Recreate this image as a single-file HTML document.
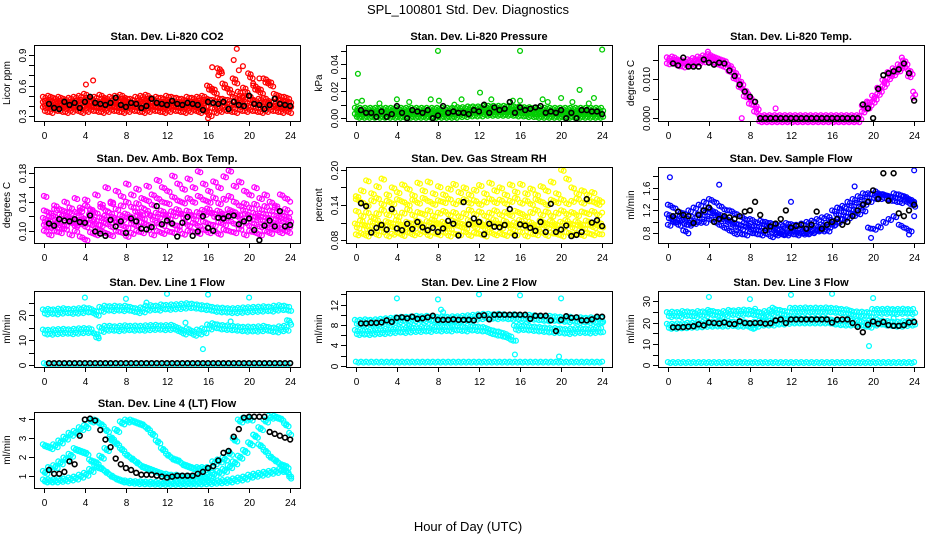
<!DOCTYPE html>
<html><head><meta charset="utf-8"><title>SPL_100801 Std. Dev. Diagnostics</title>
<style>
html,body{margin:0;padding:0;background:#fff;}
svg{display:block;font-family:"Liberation Sans",Arial,sans-serif;}
</style></head>
<body>
<svg id="chart" width="936" height="540" viewBox="0 0 936 540" xmlns="http://www.w3.org/2000/svg">
<rect x="0" y="0" width="936" height="540" fill="#fff"/>
<text x="468" y="14" text-anchor="middle" font-size="13">SPL_100801  Std. Dev. Diagnostics</text>
<text x="468" y="531" text-anchor="middle" font-size="13">Hour of Day (UTC)</text>
</svg>
<script>
// ---------- data ----------
const hourTicks = [0,4,8,12,16,20,24];

const co2Hi = [0.47,0.48,0.46,0.47,0.45,0.46,0.47,0.48,0.50,0.46,0.47,0.49,0.46,0.47,0.48,0.49,0.46,0.45,0.47,0.48,0.49,0.46,0.47,0.46,0.48,0.47,0.46,0.45,0.47,0.46,0.47,0.48,0.58,0.55,0.75,0.60,0.55,0.65,0.52,0.56,0.70,0.58,0.55,0.65,0.62,0.50,0.48,0.47,0.45];
const co2Mid = [0.42,0.43,0.41,0.42,0.43,0.42,0.41,0.43,0.44,0.42,0.41,0.42,0.43,0.42,0.41,0.42,0.43,0.42,0.41,0.42,0.43,0.42,0.41,0.42,0.43,0.42,0.41,0.42,0.43,0.42,0.41,0.42,0.45,0.44,0.46,0.45,0.44,0.47,0.45,0.46,0.48,0.44,0.45,0.46,0.43,0.42,0.41,0.42,0.41];
const co2Lo = [0.37,0.36,0.38,0.37,0.36,0.37,0.38,0.36,0.37,0.38,0.37,0.36,0.37,0.38,0.37,0.36,0.37,0.38,0.37,0.36,0.37,0.38,0.37,0.36,0.37,0.38,0.37,0.36,0.37,0.38,0.36,0.37,0.33,0.36,0.37,0.38,0.37,0.36,0.38,0.37,0.38,0.37,0.36,0.37,0.38,0.37,0.36,0.37,0.35];
const co2OutX = [4.1,4.8,16.4,17.0,18.8,18.5,19.0,16.0,21.0,17.3,19.4,20.4];
const co2OutY = [0.61,0.65,0.78,0.70,0.96,0.85,0.75,0.28,0.67,0.74,0.79,0.62];
const co2Black = [0.42,0.38,0.37,0.44,0.41,0.43,0.38,0.44,0.49,0.43,0.42,0.41,0.43,0.48,0.41,0.39,0.43,0.42,0.38,0.40,0.47,0.43,0.42,0.41,0.45,0.42,0.41,0.43,0.42,0.41,0.36,0.44,0.43,0.42,0.44,0.37,0.44,0.41,0.40,0.50,0.42,0.41,0.37,0.41,0.47,0.42,0.41,0.40];

const presBand = [0.004,0.004,0.004,0.004,0.004,0.004,0.004,0.004,0.004,0.004,0.004,0.004,0.004,0.004,0.004,0.004,0.004,0.004,0.004,0.004,0.0045,0.0045,0.005,0.005,0.005,0.0055,0.0055,0.0055,0.0055,0.0055,0.0055,0.005,0.005,0.0045,0.0045,0.004,0.004,0.004,0.004,0.004,0.004,0.004,0.004,0.004,0.004,0.004,0.004,0.004,0.004];
const presOutX = [0.2,8.0,16.0,24.0,0.1,0.6,2.3,4.0,5.2,7.3,8.1,10.3,12.1,13.2,15.3,18.2,20.0,21.8,23.2,9.6,21.1,22.7,16.0,18.7];
const presOutY = [0.033,0.050,0.050,0.051,0.012,0.013,0.011,0.014,0.012,0.014,0.013,0.014,0.019,0.014,0.013,0.014,0.015,0.021,0.015,0.010,0.012,0.011,0.013,0.012];
const presBlack = [0.006,0.004,0.004,0.001,0.005,0.001,0.003,0.009,0.004,0.000,0.006,0.005,0.004,0.006,0.000,0.002,0.009,0.004,0.005,0.004,0.004,0.003,0.006,0.005,0.010,0.004,0.008,0.006,0.007,0.012,0.004,0.008,0.006,0.007,0.008,0.009,0.004,0.005,0.004,0.006,0.000,0.004,0.000,0.006,0.006,0.005,0.005,0.003];

const tempBand = [0.0148,0.0150,0.0143,0.0140,0.0143,0.0146,0.0150,0.0153,0.0156,0.0150,0.0145,0.0140,0.0128,0.0110,0.0088,0.0064,0.0045,0.0025,0,0,0,0,0,0,0,0,0,0,0,0,0,0,0,0,0,0,0,0,0.0025,0.0035,0.0050,0.0070,0.0090,0.0110,0.0120,0.0130,0.0140,0.0115,0.0060];
const tempOutX = [3.9,10.5,7.2,19.5,22.8];
const tempOutY = [0.0170,0.0025,0.0000,0.0040,0.0155];
const tempBlack = [0.0140,0.0135,0.0155,0.0132,0.0132,0.0132,0.0150,0.0142,0.0137,0.0142,0.0140,0.0122,0.0108,0.0086,0.0068,0.0055,0.0042,0,0,0,0,0,0,0,0,0,0,0,0,0,0,0,0,0,0,0,0,0.0035,0.0025,0,0.0075,0.0110,0.0115,0.0120,0.0125,0.0140,0.0115,0.0045];

const ambA = [0.100,0.095,0.100,0.098,0.103,0.095,0.100,0.092,0.088,0.098,0.095,0.100,0.097,0.094,0.100,0.098,0.093,0.097,0.100,0.098,0.102,0.095,0.100,0.097,0.100,0.098,0.102,0.096,0.100,0.099,0.097,0.102,0.098,0.100,0.096,0.102,0.100,0.098,0.103,0.095,0.100,0.098,0.095,0.100,0.097,0.102,0.098,0.100,0.097];
const ambB = [0.115,0.112,0.118,0.110,0.120,0.115,0.112,0.118,0.114,0.120,0.112,0.116,0.118,0.122,0.115,0.119,0.121,0.117,0.124,0.120,0.126,0.118,0.122,0.125,0.120,0.124,0.127,0.121,0.125,0.119,0.123,0.126,0.128,0.122,0.125,0.121,0.127,0.124,0.120,0.126,0.119,0.122,0.118,0.121,0.115,0.119,0.116,0.118,0.115];
const ambC = [0.128,0.125,0.130,0.122,0.127,0.132,0.126,0.128,0.135,0.130,0.125,0.133,0.128,0.138,0.130,0.135,0.140,0.133,0.138,0.132,0.142,0.136,0.145,0.140,0.138,0.147,0.142,0.139,0.145,0.140,0.148,0.143,0.140,0.146,0.138,0.144,0.148,0.140,0.135,0.138,0.132,0.137,0.130,0.134,0.128,0.132,0.127,0.130,0.125];
const ambD = [0.148,0.120,0.135,0.130,0.140,0.125,0.145,0.132,0.143,0.128,0.150,0.137,0.160,0.140,0.155,0.148,0.165,0.150,0.158,0.145,0.162,0.150,0.170,0.160,0.155,0.176,0.165,0.158,0.172,0.160,0.182,0.165,0.155,0.168,0.160,0.175,0.183,0.162,0.168,0.155,0.150,0.160,0.145,0.150,0.140,0.135,0.150,0.145,0.140];
const ambE = [0.108,0.105,0.110,0.104,0.108,0.112,0.107,0.110,0.106,0.109,0.104,0.108,0.110,0.106,0.112,0.108,0.105,0.110,0.107,0.112,0.109,0.106,0.111,0.108,0.113,0.109,0.107,0.112,0.108,0.111,0.107,0.113,0.110,0.108,0.112,0.109,0.114,0.110,0.108,0.112,0.107,0.110,0.106,0.109,0.105,0.108,0.104,0.107,0.105];
const ambBlack = [0.110,0.107,0.116,0.114,0.113,0.116,0.112,0.111,0.121,0.099,0.096,0.093,0.115,0.106,0.113,0.097,0.117,0.113,0.103,0.102,0.105,0.134,0.109,0.114,0.110,0.092,0.111,0.119,0.093,0.099,0.120,0.104,0.100,0.118,0.117,0.120,0.121,0.109,0.113,0.117,0.101,0.087,0.107,0.114,0.106,0.127,0.106,0.108];

const rhA = [0.090,0.092,0.088,0.094,0.090,0.095,0.088,0.091,0.093,0.089,0.094,0.090,0.092,0.095,0.089,0.093,0.090,0.094,0.088,0.092,0.090,0.095,0.089,0.093,0.091,0.088,0.094,0.090,0.092,0.089,0.093,0.090,0.095,0.088,0.092,0.090,0.094,0.089,0.093,0.091,0.088,0.094,0.090,0.092,0.089,0.093,0.090,0.092,0.090];
const rhB = [0.105,0.110,0.102,0.108,0.112,0.104,0.109,0.106,0.111,0.103,0.108,0.105,0.110,0.104,0.109,0.112,0.106,0.108,0.103,0.110,0.107,0.104,0.111,0.106,0.109,0.103,0.108,0.112,0.105,0.110,0.104,0.107,0.111,0.105,0.108,0.103,0.110,0.106,0.109,0.104,0.108,0.111,0.105,0.109,0.104,0.110,0.106,0.108,0.105];
const rhC = [0.130,0.122,0.128,0.120,0.126,0.132,0.124,0.129,0.121,0.127,0.133,0.123,0.128,0.125,0.131,0.122,0.127,0.130,0.124,0.128,0.121,0.126,0.132,0.125,0.129,0.122,0.127,0.131,0.124,0.128,0.123,0.130,0.126,0.121,0.128,0.132,0.124,0.129,0.122,0.127,0.131,0.125,0.128,0.123,0.129,0.126,0.130,0.124,0.127];
const rhD = [0.150,0.145,0.140,0.148,0.152,0.142,0.147,0.143,0.150,0.146,0.141,0.149,0.144,0.152,0.147,0.142,0.148,0.145,0.151,0.143,0.147,0.150,0.144,0.148,0.142,0.146,0.151,0.145,0.149,0.143,0.147,0.152,0.144,0.148,0.142,0.150,0.146,0.141,0.149,0.145,0.150,0.143,0.147,0.151,0.144,0.148,0.146,0.142,0.145];
const rhE = [0.155,0.165,0.182,0.160,0.172,0.185,0.158,0.170,0.162,0.175,0.168,0.157,0.178,0.165,0.180,0.160,0.172,0.158,0.168,0.176,0.162,0.170,0.158,0.166,0.174,0.160,0.178,0.165,0.170,0.158,0.175,0.163,0.176,0.160,0.168,0.158,0.172,0.165,0.180,0.160,0.200,0.185,0.170,0.160,0.165,0.158,0.162,0.150,0.145];
const rhBlack = [0.143,0.138,0.093,0.101,0.106,0.098,0.133,0.100,0.097,0.108,0.099,0.111,0.102,0.097,0.101,0.094,0.100,0.113,0.108,0.088,0.145,0.107,0.117,0.111,0.090,0.108,0.103,0.102,0.106,0.133,0.088,0.107,0.105,0.101,0.096,0.111,0.094,0.142,0.094,0.098,0.105,0.087,0.089,0.094,0.150,0.110,0.114,0.104];

const sfA = [1.10,1.05,1.08,1.00,1.02,1.05,1.10,1.15,1.20,1.15,1.10,1.05,1.00,0.95,0.92,0.95,0.90,0.90,0.88,0.92,0.90,0.85,0.82,0.85,0.88,0.85,0.83,0.85,0.88,0.90,0.92,0.95,1.00,1.10,1.15,1.20,1.25,1.30,1.35,1.40,1.45,1.45,1.45,1.42,1.40,1.38,1.40,1.35,1.30];
const sfB = [1.30,1.25,1.18,1.15,1.20,1.25,1.30,1.35,1.40,1.35,1.28,1.22,1.20,1.15,1.10,1.05,1.05,1.00,1.02,1.00,0.98,0.95,0.95,0.98,0.96,0.95,0.97,1.00,1.02,1.05,1.08,1.10,1.20,1.25,1.28,1.35,1.40,1.45,1.50,1.50,1.55,1.50,1.48,1.45,1.50,1.48,1.45,1.40,1.35];
const sfC = [0.95,1.00,0.95,0.85,0.95,0.98,1.00,1.00,1.05,1.00,0.95,0.90,0.85,0.80,0.80,0.78,0.82,0.80,0.78,0.80,0.75,0.78,0.80,0.78,0.80,0.78,0.82,0.80,0.82,0.85,0.85,0.85,0.95,1.00,1.05,1.08,1.12,1.15,1.20,0.90,0.88,0.92,1.00,1.05,1.10,0.95,0.90,0.85,1.10];
const sfOutX = [0.2,5.0,19.8,24.0,23.5,12.0,2.0,18.2];
const sfOutY = [1.78,1.65,0.72,1.90,0.78,1.35,0.80,1.62];
const sfBlack = [1.10,1.18,1.12,1.10,0.98,1.12,1.20,1.25,1.00,1.05,1.10,1.08,1.05,1.10,1.18,1.20,1.35,1.12,0.85,0.92,0.97,1.05,1.20,0.90,0.93,0.95,0.88,0.95,1.18,0.88,0.95,1.00,1.05,0.95,1.00,1.10,1.20,1.30,1.35,1.55,1.40,1.85,1.37,1.85,1.15,1.10,1.20,1.30];

const l1A = [21.5,21.7,21.5,21.8,22.0,21.7,21.8,22.0,22.3,22.0,21.0,22.5,23.0,22.8,23.0,22.8,23.0,22.5,22.0,22.3,23.0,23.2,23.0,23.5,23.3,23.5,23.6,23.8,24.0,23.8,23.5,23.2,23.0,22.5,22.3,22.2,22.0,22.0,22.1,22.3,22.4,22.5,22.6,22.8,22.6,23.0,23.2,23.0,22.5];
const l1B = [13.5,13.4,13.6,13.7,13.8,13.6,13.8,14.0,14.1,14.0,12.0,14.5,15.0,15.0,14.8,15.0,15.2,15.0,15.1,15.0,15.2,15.3,15.4,15.2,15.3,15.4,14.5,13.5,14.0,13.0,13.5,14.0,15.5,16.0,15.5,15.3,15.2,15.0,14.8,14.6,14.7,14.6,14.8,15.0,14.5,14.3,14.8,15.0,17.0];
const l1C = [0.9,0.9,0.9,0.9,0.9,0.9,0.9,0.9,0.9,0.9,0.9,0.9,0.9,0.9,0.9,0.9,0.9,0.9,0.9,0.9,0.9,0.9,0.9,0.9,0.9,0.9,0.9,0.9,0.9,0.9,0.9,0.9,0.9,0.9,0.9,0.9,0.9,0.9,0.9,0.9,0.9,0.9,0.9,0.9,0.9,0.9,0.9,0.9,0.9];
const l1OutX = [4.0,8.0,12.0,16.0,20.0,10.0,15.5,13.8,18.2,23.7,24.0,5.3];
const l1OutY = [27.0,26.5,28.5,28.2,27.0,25.0,6.5,17.0,17.5,18.0,17.0,11.5];
const l1Black = [0.9,0.9,0.9,0.9,0.9,0.9,0.9,0.9,0.9,0.9,0.9,0.9,0.9,0.9,0.9,0.9,0.9,0.9,0.9,0.9,0.9,0.9,0.9,0.9,0.9,0.9,0.9,0.9,0.9,0.9,0.9,0.9,0.9,0.9,0.9,0.9,0.9,0.9,0.9,0.9,0.9,0.9,0.9,0.9,0.9,0.9,0.9,0.9];

const l2A = [8.6,8.6,8.7,8.6,8.7,8.8,8.9,9.0,9.1,9.2,9.2,9.3,9.4,9.3,9.4,9.3,9.2,9.3,9.2,9.3,9.3,9.4,9.5,9.6,9.7,9.8,9.8,9.7,9.8,9.7,9.6,9.7,9.6,9.5,9.6,9.5,9.4,9.3,9.4,9.3,9.2,9.1,9.2,9.0,9.1,9.0,9.1,9.0,9.0];
const l2B = [6.6,6.7,6.6,6.7,6.8,6.8,6.9,7.0,7.1,7.0,7.1,7.2,7.2,7.3,7.2,7.4,7.3,7.4,7.3,7.5,7.4,7.3,7.5,7.4,7.3,7.2,6.8,6.5,6.3,6.0,5.5,7.5,7.6,7.5,7.4,7.3,7.2,7.1,7.0,7.0,6.9,6.8,6.9,7.0,7.0,6.9,7.0,7.1,7.0];
const l2C = [0.8,0.8,0.8,0.8,0.8,0.8,0.8,0.8,0.8,0.8,0.8,0.8,0.8,0.8,0.8,0.8,0.8,0.8,0.8,0.8,0.8,0.8,0.8,0.8,0.8,0.8,0.8,0.8,0.8,0.8,0.8,0.8,0.8,0.8,0.8,0.8,0.8,0.8,0.8,0.8,0.8,0.8,0.8,0.8,0.8,0.8,0.8,0.8,0.8];
const l2OutX = [4.0,8.0,12.0,16.0,20.0,15.5,15.6,19.8,8.5,8.3,14.5,5.2,24.0];
const l2OutY = [13.2,13.0,14.0,13.8,13.2,2.2,4.9,1.8,10.5,11.0,5.8,7.8,8.4];
const l2Black = [8.3,8.3,8.4,8.4,8.5,8.9,8.6,9.4,9.5,9.3,9.6,9.2,9.3,9.5,9.8,9.0,9.0,9.0,9.1,9.0,9.0,9.0,8.9,9.8,9.9,9.1,10.0,10.0,10.0,10.0,10.0,10.0,10.0,9.2,9.8,9.8,9.8,8.9,6.8,9.0,9.7,9.4,9.5,8.9,8.9,9.1,9.6,9.6];

const l3A = [24.0,24.2,24.0,24.5,24.3,24.0,24.5,24.3,25.0,24.5,24.0,24.5,25.0,24.8,25.0,25.2,25.0,24.5,24.0,24.5,25.0,25.5,25.0,24.5,26.0,26.0,26.0,26.2,26.0,26.1,26.0,26.2,26.0,25.8,25.5,25.3,24.5,24.3,24.2,24.0,25.5,25.5,25.5,25.6,25.4,25.5,25.6,25.4,25.5];
const l3B = [18.5,18.5,18.7,18.8,19.0,19.0,19.2,19.4,19.5,19.6,19.5,19.6,19.8,19.5,19.5,19.6,18.5,19.5,20.0,20.0,20.0,20.5,20.5,20.8,21.0,21.0,21.0,21.0,21.0,21.0,21.0,21.0,20.5,20.2,20.0,20.0,20.0,20.0,19.5,19.0,20.0,20.5,20.0,19.8,19.5,19.5,19.8,20.0,20.0];
const l3C = [1.5,1.5,1.5,1.5,1.5,1.5,1.5,1.5,1.5,1.5,1.5,1.5,1.5,1.5,1.5,1.5,1.5,1.5,1.5,1.5,1.5,1.5,1.5,1.5,1.5,1.5,1.5,1.5,1.5,1.5,1.5,1.5,1.5,1.5,1.5,1.5,1.5,1.5,1.5,1.5,1.5,1.5,1.5,1.5,1.5,1.5,1.5,1.5,1.5];
const l3OutX = [4.0,8.0,12.0,16.0,20.0,19.6,8.5,10.2,8.5,4.0,12.5,22.0];
const l3OutY = [32.0,31.0,33.0,33.5,31.5,9.0,17.5,27.0,26.5,25.0,22.0,22.0];
const l3Black = [17.8,17.8,17.9,18.1,18.3,19.2,18.7,20.0,19.8,19.6,20.1,19.4,19.3,20.6,19.8,19.7,19.8,19.9,19.5,19.7,21.0,21.5,19.8,21.5,21.5,21.5,21.5,21.5,21.5,21.5,21.5,20.0,21.4,21.5,21.5,19.8,18.0,15.5,19.0,20.5,19.5,20.3,18.8,18.5,18.5,18.8,20.1,20.3];

const l4C1 = [2.6,2.5,2.6,2.8,3.0,3.2,3.3,3.5,3.6,3.9,3.9,3.7,3.4,3.0,2.7,2.4,2.1,1.9,1.7,1.5,1.4,1.3,1.2,1.1,1.05,1.0,1.0,0.95,0.95,0.95,1.0,1.0,1.0,1.1,1.2,1.3,1.5,1.7,2.0,2.3,2.7,3.1,3.5,3.9,4.1,4.1,4.0,3.7,3.2];
const l4C2 = [1.2,1.4,1.5,1.7,1.9,2.1,2.4,2.3,2.2,1.8,1.7,2.0,2.4,2.9,3.4,3.8,3.9,3.9,3.8,3.7,3.5,3.2,2.8,2.4,2.1,1.9,1.8,1.6,1.5,1.4,1.4,1.4,1.4,1.7,1.8,1.9,2.2,2.9,3.9,4.0,4.0,3.1,2.6,2.3,2.0,1.8,1.6,1.5,1.0];
const l4C3 = [0.75,0.75,0.75,0.78,0.8,0.85,0.9,1.0,1.1,1.3,1.5,1.4,1.2,1.0,0.85,0.75,0.7,0.68,0.66,0.65,0.64,0.63,0.62,0.62,0.62,0.62,0.62,0.62,0.63,0.63,0.64,0.65,0.66,0.68,0.7,0.72,0.75,0.8,0.85,0.9,1.0,1.05,1.1,1.15,1.2,1.25,1.3,1.25,0.9];
const l4Black = [1.3,1.1,1.1,1.2,1.75,1.6,3.1,3.95,4.0,3.9,3.4,2.9,2.5,1.9,1.6,1.4,1.3,1.15,1.05,1.05,1.05,1.0,0.95,0.9,0.95,1.0,1.0,1.0,1.0,1.1,1.2,1.4,1.5,1.8,2.2,2.3,3.05,3.45,4.05,4.1,4.1,4.1,4.1,3.3,3.2,3.1,3.0,2.9];

// ---------- layout ----------
const NS = "http://www.w3.org/2000/svg";
const svg = document.getElementById('chart');
const colLeft = [34, 346, 658];
const rowTop = [45, 167, 291, 412];
const BOXW = 266, BOXH = 76;
const R = 2.4;

function mk(tag, attrs, parent) {
  const e = document.createElementNS(NS, tag);
  for (const k in attrs) e.setAttribute(k, attrs[k]);
  (parent || svg).appendChild(e);
  return e;
}

const panels = [
  {id:'li820-co2', col:0,row:0,title:'Stan. Dev. Li-820 CO2',ylab:'Licor ppm',ylim:[0.28,0.97],ticks:[0.3,0.4,0.5,0.6,0.7,0.8,0.9],labels:{0.3:'0.3',0.6:'0.6',0.9:'0.9'},color:'#ff0000',
   bands:[[co2Hi,[-2,2]],[co2Mid,[-2,2]],[co2Lo,[-2,2]]],outX:co2OutX,outY:co2OutY,black:co2Black},
  {id:'li820-pressure', col:1,row:0,title:'Stan. Dev. Li-820 Pressure',ylab:'kPa',ylim:[0,0.0523],ticks:[0,0.01,0.02,0.03,0.04,0.05],labels:{0:'0.00',0.02:'0.02',0.04:'0.04'},color:'#00cc00',
   bands:[[presBand,[-5,-2,1,4]]],outX:presOutX,outY:presOutY,black:presBlack},
  {id:'li820-temp', col:2,row:0,title:'Stan. Dev. Li-820 Temp.',ylab:'degrees C',ylim:[0,0.018],ticks:[0,0.005,0.01,0.015],labels:{0:'0.000',0.01:'0.010'},color:'#ff00ff',
   bands:[[tempBand,[-3,0,3]]],outX:tempOutX,outY:tempOutY,black:tempBlack},
  {id:'amb-box-temp', col:0,row:1,title:'Stan. Dev. Amb. Box Temp.',ylab:'degrees C',ylim:[0.087,0.184],ticks:[0.10,0.12,0.14,0.16,0.18],labels:{0.1:'0.10',0.14:'0.14',0.18:'0.18'},color:'#ff00ff',
   bands:[[ambA,[0]],[ambE,[0]],[ambB,[-2,2]],[ambC,[0]],[ambD,[0]]],outX:[],outY:[],black:ambBlack},
  {id:'gas-stream-rh', col:1,row:1,title:'Stan. Dev. Gas Stream RH',ylab:'percent',ylim:[0.08,0.20],ticks:[0.08,0.11,0.14,0.17,0.20],labels:{0.08:'0.08',0.14:'0.14',0.2:'0.20'},color:'#ffff00',
   bands:[[rhA,[0]],[rhB,[-2,2]],[rhC,[0]],[rhD,[0]],[rhE,[0]]],outX:[],outY:[],black:rhBlack},
  {id:'sample-flow', col:2,row:1,title:'Stan. Dev. Sample Flow',ylab:'ml/min',ylim:[0.68,1.91],ticks:[0.8,1.0,1.2,1.4,1.6,1.8],labels:{0.8:'0.8',1.2:'1.2',1.6:'1.6'},color:'#0000ff',
   bands:[[sfA,[-2,2]],[sfB,[0]],[sfC,[0]]],outX:sfOutX,outY:sfOutY,black:sfBlack},
  {id:'line1-flow', col:0,row:2,title:'Stan. Dev. Line 1 Flow',ylab:'ml/min',ylim:[0.5,28.5],ticks:[0,5,10,15,20,25],labels:{0:'0',10:'10',20:'20'},color:'#00ffff',
   bands:[[l1A,[-2,2]],[l1B,[-2,2]],[l1C,[0]]],outX:l1OutX,outY:l1OutY,black:l1Black},
  {id:'line2-flow', col:1,row:2,title:'Stan. Dev. Line 2 Flow',ylab:'ml/min',ylim:[0.3,14.1],ticks:[0,2,4,6,8,10,12,14],labels:{0:'0',4:'4',8:'8',12:'12'},color:'#00ffff',
   bands:[[l2A,[-2,2]],[l2B,[-2,2]],[l2C,[0]]],outX:l2OutX,outY:l2OutY,black:l2Black},
  {id:'line3-flow', col:2,row:2,title:'Stan. Dev. Line 3 Flow',ylab:'ml/min',ylim:[0.5,33.5],ticks:[0,5,10,15,20,25,30],labels:{0:'0',10:'10',20:'20',30:'30'},color:'#00ffff',
   bands:[[l3A,[-2,2]],[l3B,[-2,2]],[l3C,[0]]],outX:l3OutX,outY:l3OutY,black:l3Black},
  {id:'line4-lt-flow', col:0,row:3,title:'Stan. Dev. Line 4 (LT) Flow',ylab:'ml/min',ylim:[0.5,4.2],ticks:[1,2,3,4],labels:{1:'1',2:'2',3:'3',4:'4'},color:'#00ffff',
   bands:[[l4C1,[-1,1]],[l4C2,[-1,1]],[l4C3,[-1,1]]],outX:[],outY:[],black:l4Black}
];

panels.forEach(p => {
  const L = colLeft[p.col], T = rowTop[p.row];
  const g = mk('g', {});
  
  
  const d = p.ylim[1] - p.ylim[0];
  const y0 = p.ylim[0] - 0.04 * d, y1 = p.ylim[1] + 0.04 * d;
  const sx = h => L + BOXW * (h + 0.96) / 25.92;
  const sy = v => T + BOXH - BOXH * (v - y0) / (y1 - y0);

  const t = mk('text', {x: L + BOXW / 2, y: T - 5, 'text-anchor': 'middle', 'font-size': 11, 'font-weight': 'bold'}, g);
  t.textContent = p.title;
  
  

  const yl = mk('text', {x: 0, y: 0, 'text-anchor': 'middle', 'font-size': 10, transform: `translate(${L - 24},${T + BOXH / 2}) rotate(-90)`}, g);
  yl.textContent = p.ylab;
  
  

  const pts = mk('g', {fill: 'none', 'stroke-width': 1.3}, g);
  
  
  const halfStep = BOXW * 0.25 / 25.92;
  p.bands.forEach(b => {
    const ys = b[0], offs = b[1];
    ys.forEach((v, i) => {
      const h = 24 * i / (ys.length - 1);
      offs.forEach((o, k) => {
        [0, 1].forEach(s => {
          if (s === 1 && i === ys.length - 1) return;
          const c = mk('circle', {cx: sx(h) + s * halfStep + (k % 2 ? 1 : -1) * (offs.length > 1 ? 1 : 0), cy: sy(v) + o + (s ? 1 : 0), r: R, stroke: p.color}, pts);
          
          
        });
      });
    });
  });
  p.outX.forEach((h, i) => {
    const c = mk('circle', {cx: sx(h), cy: sy(p.outY[i]), r: R, stroke: p.color}, pts);
    
    
  });
  p.black.forEach((v, i) => {
    const h = 0.5 + 0.5 * i;
    const c = mk('circle', {cx: sx(h), cy: sy(v), r: R, stroke: '#000', 'stroke-width': 1.6}, pts);
    
    
  });

  const box = mk('rect', {x: L + 0.5, y: T + 0.5, width: BOXW, height: BOXH, fill: 'none', stroke: '#000', 'stroke-width': 1}, g);
  
  

  const xa = mk('g', {}, g);
  
  
  hourTicks.forEach(h => {
    const x = Math.round(sx(h)) + 0.5;
    mk('line', {x1: x, x2: x, y1: T + BOXH, y2: T + BOXH + 5, stroke: '#000'}, xa);
    const tl = mk('text', {x: x, y: T + BOXH + 18, 'text-anchor': 'middle', 'font-size': 10}, xa);
    tl.textContent = h;
    
    
  });
  const ya = mk('g', {}, g);
  
  
  p.ticks.forEach(v => {
    const y = Math.round(sy(v)) + 0.5;
    mk('line', {x1: L - 5, x2: L, y1: y, y2: y, stroke: '#000'}, ya);
    const key = Object.keys(p.labels).find(k => Math.abs(parseFloat(k) - v) < 1e-9);
    if (key !== undefined) {
      const tl = mk('text', {x: 0, y: 0, 'text-anchor': 'middle', 'font-size': 10, transform: `translate(${L - 8},${y}) rotate(-90)`}, ya);
      tl.textContent = p.labels[key];
      
      
    }
  });
});
</script>
</body></html>
